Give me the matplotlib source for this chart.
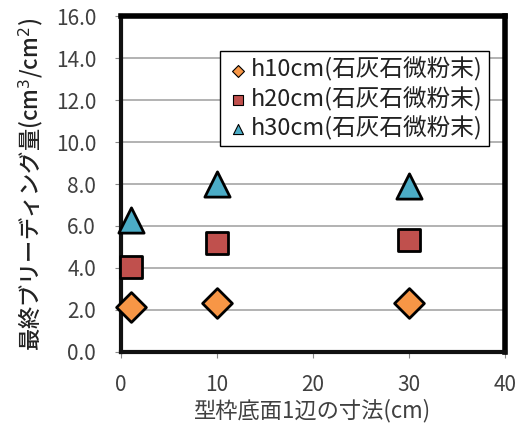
import matplotlib
matplotlib.use("Agg")
import matplotlib.pyplot as plt

plt.rcParams['font.family'] = ['Noto Sans CJK JP', 'DejaVu Sans']

# data
sizes = [1, 10, 30]
h10 = [2.15, 2.35, 2.35]
h20 = [4.05, 5.2, 5.35]
h30 = [6.3, 8.0, 7.9]
labels = ["h10cm(石灰石微粉末)", "h20cm(石灰石微粉末)", "h30cm(石灰石微粉末)"]
yticks = [0, 2, 4, 6, 8, 10, 12, 14, 16]
xticks = [0, 10, 20, 30, 40]

txt = "#404040"

fig = plt.figure(figsize=(5.31, 4.25), dpi=100)
ax = fig.add_axes([0.228, 0.172, 0.723, 0.79])

ax.scatter(sizes, h10, marker="D", s=230, c="#f79646", edgecolors="black", linewidths=2, label=labels[0], zorder=3, clip_on=False)
ax.scatter(sizes, h20, marker="s", s=270, c="#c0504d", edgecolors="black", linewidths=2, label=labels[1], zorder=3, clip_on=False)
ax.scatter(sizes, h30, marker="^", s=330, c="#4bacc6", edgecolors="black", linewidths=2, label=labels[2], zorder=3, clip_on=False)

ax.set_xlim(0, 40)
ax.set_ylim(0, 16)
ax.set_xticks(xticks)
ax.set_yticks(yticks)
ax.set_yticklabels([f"{v:.1f}" for v in yticks])
ax.tick_params(labelsize=15, length=4, color="#888888", direction="out", labelcolor=txt)
ax.tick_params(axis="y", pad=14)
ax.tick_params(axis="x", pad=12)
ax.yaxis.grid(True, color="#a6a6a6", linewidth=1.2)
ax.set_axisbelow(True)

for side in ["top", "right"]:
    ax.spines[side].set_linewidth(4)
    ax.spines[side].set_color("black")
for side in ["left", "bottom"]:
    ax.spines[side].set_linewidth(3)
    ax.spines[side].set_color("#111111")

ax.set_xlabel("型枠底面1辺の寸法(cm)", fontsize=16, labelpad=2, color=txt)
ax.set_ylabel("最終ブリーディング量(cm$^3$/cm$^2$)", fontsize=16, labelpad=8,
              color="#222222", fontweight="medium")

leg = ax.legend(loc="upper right", bbox_to_anchor=(0.988, 0.93), fontsize=17,
                markerscale=0.4, handletextpad=0.05, borderpad=0.25, labelspacing=0.2,
                handlelength=1.0, fancybox=False, framealpha=1, edgecolor="black")
leg.get_frame().set_linewidth(1.0)
for h in leg.legend_handles:
    h.set_linewidth(0.8)
for t in leg.get_texts():
    t.set_color("#222222")

fig.savefig("out.png", dpi=100)
